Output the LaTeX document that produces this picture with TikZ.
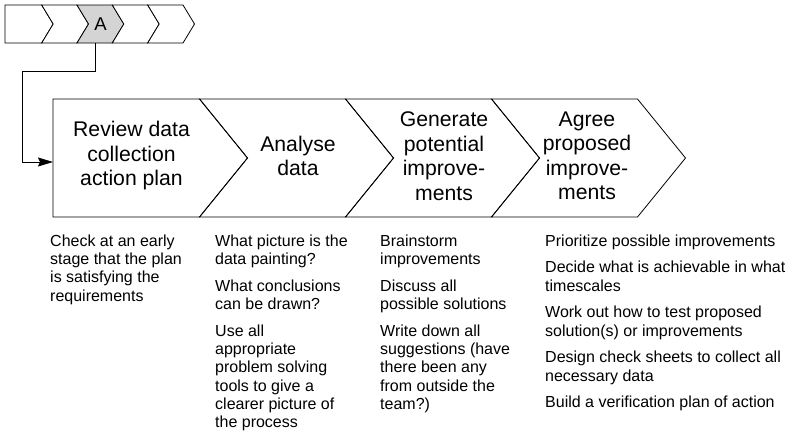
\documentclass[tikz,border=0pt]{standalone}
\usepackage{fontspec}
\setmainfont{Liberation Sans}
\usetikzlibrary{arrows.meta}
\definecolor{stepgray}{gray}{0.83}
\begin{document}
\begin{tikzpicture}[x=1pt,y=-1pt,
  chev/.style={draw=black, line width=0.8pt, line join=miter},
  head/.style={font=\fontsize{21.2}{24.5}\selectfont, align=center, inner sep=0pt},
  small/.style={font=\fontsize{18.5}{22}\selectfont, inner sep=0pt},
  note/.style={font=\fontsize{16}{18.3}\selectfont, align=left, anchor=north west, inner sep=0pt},
  conn/.style={draw=black, line width=0.8pt, -{Stealth[length=15pt,width=9pt,inset=2pt]}},
]
\useasboundingbox (0,0) rectangle (792,431);
% top strip
\def\d{11.5}
\draw[chev] (5,5) -- (41.7,5) -- (41.7+\d,24) -- (41.7,43) -- (5,43) -- cycle;
\foreach \a/\b/\f in {41.7/77/white, 77/112.3/stepgray, 112.3/147.7/white, 147.7/183/white}{
  \draw[chev, fill=\f] (\a,5) -- (\b,5) -- (\b+\d,24) -- (\b,43) -- (\a,43) -- (\a+\d,24) -- cycle;
}
\node[small] (A) at (100.5,24) {A};
% main chevrons
\def\D{48}
\draw[chev] (53,99) -- (199.5,99) -- (199.5+\D,158) -- (199.5,217) -- (53,217) -- cycle;
\foreach \a/\b in {199.5/345.5, 345.5/491.5, 491.5/637.5}{
  \draw[chev] (\a,99) -- (\b,99) -- (\b+\D,158) -- (\b,217) -- (\a,217) -- (\a+\D,158) -- cycle;
}
\node[head] (L1) at (131.5,156) {Review data\\collection\\action plan};
\node[head] (L2) at (298,156) {Analyse\\data};
\node[head] (L3) at (444,156) {Generate\\potential\\improve-\\ments};
\node[head] (L4) at (587,156) {Agree\\proposed\\improve-\\ments};
% connector
\coordinate (Aout) at (95,43);
\coordinate (in1) at (53,162);
\draw[conn] (Aout) -- (95,71) -| (22,162) -- (in1);
% notes
\node[note] (N1) at (50,233.2) {\strut Check at an early\\stage that the plan\\is satisfying the\\requirements};
\node[note] (N2) at (215,233.2) {\strut What picture is the\\data painting?\\[8.4pt]What conclusions\\can be drawn?\\[8.4pt]Use all\\appropriate\\problem solving\\tools to give a\\clearer picture of\\the process};
\node[note] (N3) at (380,233.2) {\strut Brainstorm\\improvements\\[8.4pt]Discuss all\\possible solutions\\[8.4pt]Write down all\\suggestions (have\\there been any\\from outside the\\team?)};
\node[note] (N4) at (545,233.2) {\strut Prioritize possible improvements\\[8.4pt]Decide what is achievable in what\\timescales\\[8.4pt]Work out how to test proposed\\solution(s) or improvements\\[8.4pt]Design check sheets to collect all\\necessary data\\[8.4pt]Build a verification plan of action};
\end{tikzpicture}
\end{document}
